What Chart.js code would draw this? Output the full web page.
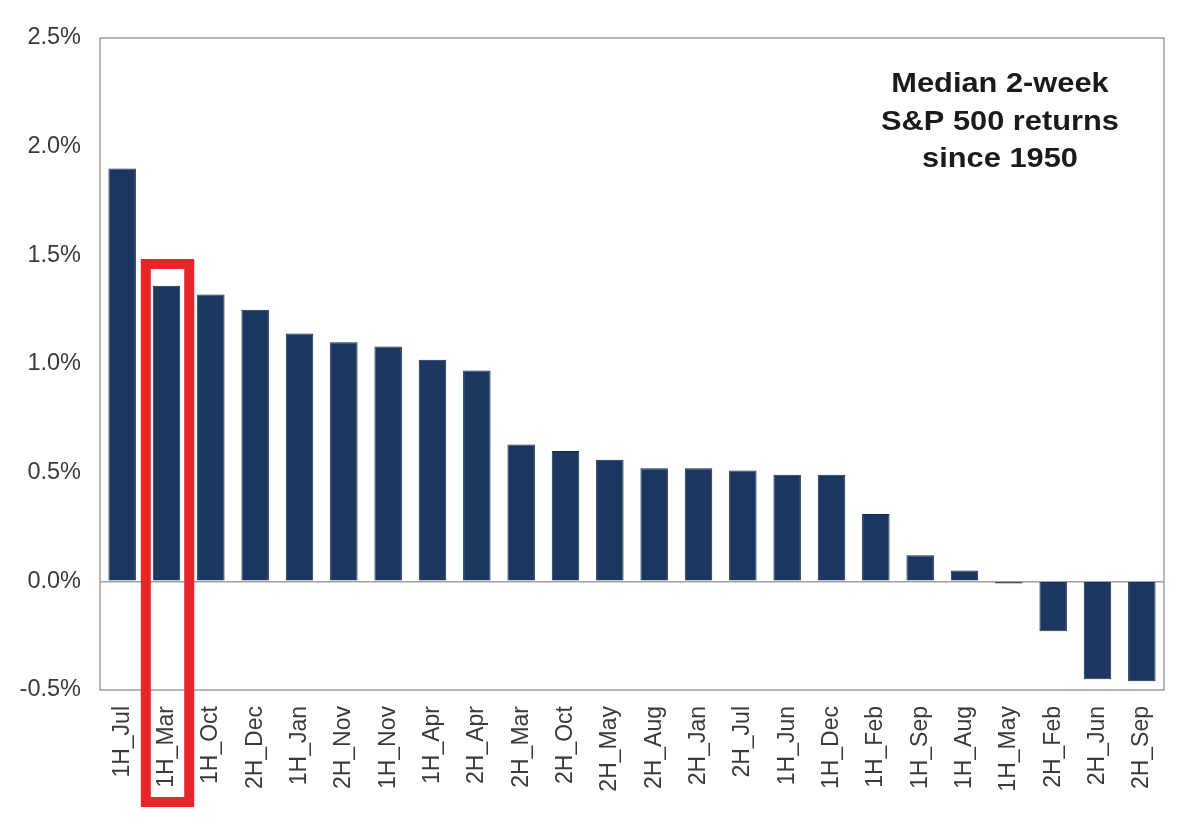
<!DOCTYPE html>
<html lang="en">
<head>
    <meta charset="UTF-8">
    <title>Median 2-week S&amp;P 500 returns since 1950</title>
    <script src="https://cdn.jsdelivr.net/npm/chart.js@4.4.1/dist/chart.umd.min.js"></script>
    <style>
        html, body { margin: 0; padding: 0; background: #fff; }
        #wrap { width: 1200px; height: 831px; }
    </style>
</head>
<body>
    <div id="wrap"><canvas id="chartArea"></canvas></div>

    <script>
        // periods, sorted by median return
        var periods = ['1H_Jul', '1H_Mar', '1H_Oct', '2H_Dec', '1H_Jan', '2H_Nov', '1H_Nov', '1H_Apr',
                       '2H_Apr', '2H_Mar', '2H_Oct', '2H_May', '2H_Aug', '2H_Jan', '2H_Jul', '1H_Jun',
                       '1H_Dec', '1H_Feb', '1H_Sep', '1H_Aug', '1H_May', '2H_Feb', '2H_Jun', '2H_Sep'];
        // median 2-week return, %
        var medianReturns = [1.90, 1.36, 1.32, 1.25, 1.14, 1.10, 1.08, 1.02,
                             0.97, 0.63, 0.60, 0.56, 0.52, 0.52, 0.51, 0.49,
                             0.49, 0.31, 0.12, 0.05, -0.01, -0.23, -0.45, -0.46];
        var yTicks = [-0.5, 0.0, 0.5, 1.0, 1.5, 2.0, 2.5];
        var titleLines = ['Median 2-week', 'S&P 500 returns', 'since 1950'];
        var highlightIndex = 1;   // 1H_Mar
        var highlightTop = 1.46;  // where the red box starts, in %

        var FONT = "'Liberation Sans', Arial, sans-serif";

        // frame, title and the red box
        const extras = {
            id: 'extras',
            afterDatasetsDraw(chart) {
                const ctx = chart.ctx;
                const a = chart.chartArea;
                const x = chart.scales.x, y = chart.scales.y;
                ctx.save();

                ctx.strokeStyle = '#a0a0a0';
                ctx.lineWidth = 1.5;
                ctx.strokeRect(a.left, a.top, a.right - a.left, a.bottom - a.top);

                ctx.fillStyle = '#1a1a1a';
                ctx.font = 'bold 28px ' + FONT;
                ctx.textAlign = 'center';
                ctx.textBaseline = 'alphabetic';
                titleLines.forEach(function (t, i) {
                    ctx.save();
                    ctx.translate(a.right - 164, a.top + 54 + i * 37.5);
                    ctx.scale(1.1, 1);
                    ctx.fillText(t, 0, 0);
                    ctx.restore();
                });

                const cx = x.getPixelForValue(highlightIndex) + 1;
                const half = (x.getPixelForValue(1) - x.getPixelForValue(0)) * 0.49;
                const top = y.getPixelForValue(highlightTop);
                const bottom = a.bottom + 112;
                ctx.strokeStyle = '#e8262a';
                ctx.lineWidth = 10;
                ctx.strokeRect(cx - half, top, half * 2, bottom - top);
                ctx.restore();
            }
        };

        const data = {
            labels: periods,
            datasets: [{
                data: medianReturns,
                backgroundColor: '#1b365f',
                borderColor: '#142b4f',
                borderWidth: 1,
                barPercentage: 0.62,
                categoryPercentage: 1.0
            }]
        };

        const config = {
            type: 'bar',
            data,
            options: {
                responsive: true,
                maintainAspectRatio: false,
                animation: false,
                layout: { padding: { top: 38, right: 36, left: 0, bottom: 0 } },
                plugins: { legend: { display: false }, tooltip: { enabled: false } },
                scales: {
                    x: {
                        grid: { display: false },
                        border: { display: false },
                        ticks: {
                            autoSkip: false,
                            minRotation: 90,
                            maxRotation: 90,
                            padding: 8,
                            color: '#3a3a3a',
                            font: { family: FONT, size: 23 }
                        },
                        afterFit(scale) { scale.height = 141; }
                    },
                    y: {
                        min: -0.5,
                        max: 2.5,
                        afterBuildTicks(scale) { scale.ticks = yTicks.map(v => ({ value: v })); },
                        grid: {
                            drawTicks: false,
                            lineWidth: 1.5,
                            color: ctx => (ctx.tick && ctx.tick.value === 0) ? '#a0a0a0' : 'rgba(0,0,0,0)'
                        },
                        border: { display: false },
                        ticks: {
                            padding: 19,
                            color: '#3a3a3a',
                            font: { family: FONT, size: 23.5 },
                            callback: v => v.toFixed(1) + '%'
                        },
                        afterFit(scale) { scale.width = 100; }
                    }
                }
            },
            plugins: [extras]
        };

        var myChart = new Chart(document.getElementById('chartArea'), config);
    </script>
</body>
</html>
